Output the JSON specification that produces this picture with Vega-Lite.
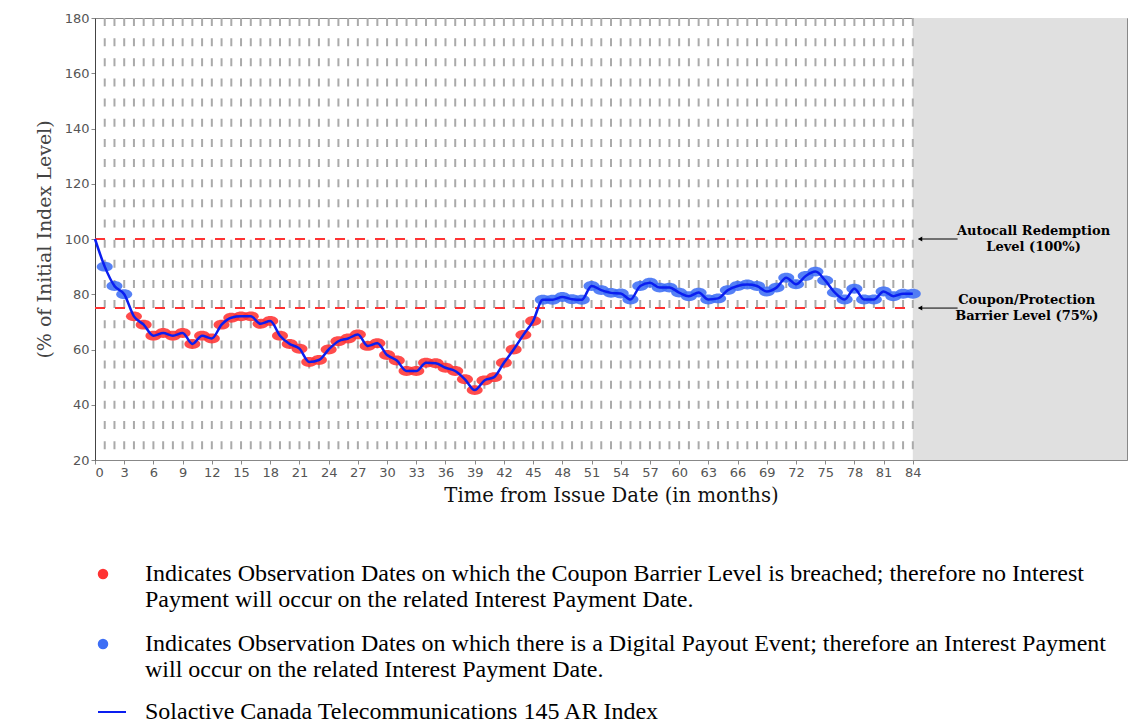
{
  "$schema": "https://vega.github.io/schema/vega-lite/v6.json",
  "width": 1032,
  "height": 442,
  "padding": {"left": 35, "top": 12, "right": 5, "bottom": 0},
  "background": "white",
  "config": {
    "view": {"stroke": "#888888", "strokeWidth": 1},
    "axis": {"grid": false, "labelFont": "DejaVu Sans", "labelFontSize": 13, "labelColor": "#555555", "tickColor": "#888888", "tickSize": 4, "labelPadding": 2, "titleFontWeight": "normal", "labelOverlap": false},
    "legend": {"labelFont": "Liberation Serif", "labelFontSize": 24, "labelColor": "#000000", "labelLimit": 1500, "symbolOpacity": 1}
  },
  "datasets": {
    "obs": [
      {"month": 0, "level": 100, "status": "Start"},
      {"month": 1, "level": 90, "status": "Payout"},
      {"month": 2, "level": 83, "status": "Payout"},
      {"month": 3, "level": 80, "status": "Payout"},
      {"month": 4, "level": 72, "status": "Breach"},
      {"month": 5, "level": 69, "status": "Breach"},
      {"month": 6, "level": 65, "status": "Breach"},
      {"month": 7, "level": 66, "status": "Breach"},
      {"month": 8, "level": 65, "status": "Breach"},
      {"month": 9, "level": 66, "status": "Breach"},
      {"month": 10, "level": 62, "status": "Breach"},
      {"month": 11, "level": 65, "status": "Breach"},
      {"month": 12, "level": 64, "status": "Breach"},
      {"month": 13, "level": 69, "status": "Breach"},
      {"month": 14, "level": 71.5, "status": "Breach"},
      {"month": 15, "level": 72, "status": "Breach"},
      {"month": 16, "level": 72, "status": "Breach"},
      {"month": 17, "level": 69.3, "status": "Breach"},
      {"month": 18, "level": 70.3, "status": "Breach"},
      {"month": 19, "level": 65, "status": "Breach"},
      {"month": 20, "level": 62, "status": "Breach"},
      {"month": 21, "level": 60.3, "status": "Breach"},
      {"month": 22, "level": 55.5, "status": "Breach"},
      {"month": 23, "level": 56.2, "status": "Breach"},
      {"month": 24, "level": 60, "status": "Breach"},
      {"month": 25, "level": 63, "status": "Breach"},
      {"month": 26, "level": 64, "status": "Breach"},
      {"month": 27, "level": 65.4, "status": "Breach"},
      {"month": 28, "level": 61.3, "status": "Breach"},
      {"month": 29, "level": 62.3, "status": "Breach"},
      {"month": 30, "level": 58, "status": "Breach"},
      {"month": 31, "level": 56, "status": "Breach"},
      {"month": 32, "level": 52.2, "status": "Breach"},
      {"month": 33, "level": 52.2, "status": "Breach"},
      {"month": 34, "level": 55.2, "status": "Breach"},
      {"month": 35, "level": 55, "status": "Breach"},
      {"month": 36, "level": 53.4, "status": "Breach"},
      {"month": 37, "level": 52.2, "status": "Breach"},
      {"month": 38, "level": 49.2, "status": "Breach"},
      {"month": 39, "level": 45.3, "status": "Breach"},
      {"month": 40, "level": 48.8, "status": "Breach"},
      {"month": 41, "level": 50, "status": "Breach"},
      {"month": 42, "level": 55.2, "status": "Breach"},
      {"month": 43, "level": 60, "status": "Breach"},
      {"month": 44, "level": 65.3, "status": "Breach"},
      {"month": 45, "level": 70.3, "status": "Breach"},
      {"month": 46, "level": 78, "status": "Payout"},
      {"month": 47, "level": 78, "status": "Payout"},
      {"month": 48, "level": 79, "status": "Payout"},
      {"month": 49, "level": 78.2, "status": "Payout"},
      {"month": 50, "level": 78, "status": "Payout"},
      {"month": 51, "level": 83, "status": "Payout"},
      {"month": 52, "level": 81.5, "status": "Payout"},
      {"month": 53, "level": 80.5, "status": "Payout"},
      {"month": 54, "level": 80.3, "status": "Payout"},
      {"month": 55, "level": 78.1, "status": "Payout"},
      {"month": 56, "level": 83, "status": "Payout"},
      {"month": 57, "level": 84.2, "status": "Payout"},
      {"month": 58, "level": 82.4, "status": "Payout"},
      {"month": 59, "level": 82.4, "status": "Payout"},
      {"month": 60, "level": 80.6, "status": "Payout"},
      {"month": 61, "level": 79.3, "status": "Payout"},
      {"month": 62, "level": 80.6, "status": "Payout"},
      {"month": 63, "level": 78.1, "status": "Payout"},
      {"month": 64, "level": 78.5, "status": "Payout"},
      {"month": 65, "level": 81.5, "status": "Payout"},
      {"month": 66, "level": 83, "status": "Payout"},
      {"month": 67, "level": 83.5, "status": "Payout"},
      {"month": 68, "level": 83, "status": "Payout"},
      {"month": 69, "level": 81, "status": "Payout"},
      {"month": 70, "level": 82.4, "status": "Payout"},
      {"month": 71, "level": 86, "status": "Payout"},
      {"month": 72, "level": 83.6, "status": "Payout"},
      {"month": 73, "level": 86.6, "status": "Payout"},
      {"month": 74, "level": 88.2, "status": "Payout"},
      {"month": 75, "level": 85, "status": "Payout"},
      {"month": 76, "level": 80.6, "status": "Payout"},
      {"month": 77, "level": 78.1, "status": "Payout"},
      {"month": 78, "level": 82, "status": "Payout"},
      {"month": 79, "level": 78.1, "status": "Payout"},
      {"month": 80, "level": 78.1, "status": "Payout"},
      {"month": 81, "level": 81, "status": "Payout"},
      {"month": 82, "level": 79.3, "status": "Payout"},
      {"month": 83, "level": 80.2, "status": "Payout"},
      {"month": 84, "level": 80.2, "status": "Payout"}
    ],
    "levels": [
      {"level": 100, "label": "Autocall Redemption\nLevel (100%)", "labelAt": 96.4},
      {"level": 75, "label": "Coupon/Protection\nBarrier Level (75%)", "labelAt": 95.7}
    ],
    "shade": [{"from": 84, "to": 106}]
  },
  "layer": [
    {
      "data": {"name": "shade"},
      "mark": {"type": "rect", "fill": "#e0e0e0"},
      "encoding": {
        "x": {"field": "from", "type": "quantitative", "title": "Time from Issue Date (in months)",
          "scale": {"domain": [0, 106], "nice": false, "zero": false},
          "axis": {"values": [0,3,6,9,12,15,18,21,24,27,30,33,36,39,42,45,48,51,54,57,60,63,66,69,72,75,78,81,84], "tickCount": 60, "domainColor": "#888888", "titleFont": "DejaVu Serif", "titleFontSize": 19.6, "titleColor": "#111111", "titlePadding": 7}},
        "x2": {"field": "to"}
      }
    },
    {
      "data": {"name": "obs"},
      "transform": [{"filter": "datum.month > 0"}],
      "mark": {"type": "rule", "color": "#aaaaaa", "strokeWidth": 2, "strokeDash": [8, 12.15]},
      "encoding": {
        "x": {"field": "month", "type": "quantitative", "title": "Time from Issue Date (in months)"}
      }
    },
    {
      "data": {"name": "levels"},
      "mark": {"type": "rule", "color": "#ff3333", "strokeWidth": 2, "strokeDash": [10, 10]},
      "encoding": {
        "x": {"datum": 0, "type": "quantitative"},
        "x2": {"datum": 84},
        "y": {"field": "level", "type": "quantitative", "title": "(% of Initial Index Level)",
          "scale": {"domain": [20, 180], "nice": false, "zero": false},
          "axis": {"values": [20,40,60,80,100,120,140,160,180], "tickCount": 20, "domainColor": "#444444", "titleFont": "DejaVu Serif", "titleFontSize": 19, "titleColor": "#444444", "titlePadding": 10}}
      }
    },
    {
      "data": {"name": "obs"},
      "transform": [{"filter": "datum.month > 0"}],
      "mark": {"type": "point", "filled": true, "opacity": 0.88, "size": 256, "shape": "M-1,0A1,0.62,0,1,1,1,0A1,0.62,0,1,1,-1,0Z"},
      "encoding": {
        "x": {"field": "month", "type": "quantitative", "title": "Time from Issue Date (in months)"},
        "y": {"field": "level", "type": "quantitative", "title": "(% of Initial Index Level)"},
        "fill": {"field": "status", "type": "nominal",
          "scale": {"domain": ["Breach", "Payout"], "range": ["#ff3333", "#3d6ef5"]},
          "legend": {
            "orient": "none", "legendX": -4, "legendY": 544, "title": null, "direction": "vertical",
            "symbolType": "circle", "symbolSize": 110, "labelOffset": 30, "rowPadding": 20,
            "labelExpr": "datum.value == 'Breach' ? ['Indicates Observation Dates on which the Coupon Barrier Level is breached; therefore no Interest', 'Payment will occur on the related Interest Payment Date.'] : ['Indicates Observation Dates on which there is a Digital Payout Event; therefore an Interest Payment', 'will occur on the related Interest Payment Date.']",
            "encode": {"labels": {"lineHeight": {"value": 26}}}
          }}
      }
    },
    {
      "data": {"name": "obs"},
      "mark": {"type": "line", "strokeWidth": 2.5, "interpolate": "monotone"},
      "encoding": {
        "x": {"field": "month", "type": "quantitative", "title": "Time from Issue Date (in months)"},
        "y": {"field": "level", "type": "quantitative", "title": "(% of Initial Index Level)"},
        "stroke": {"datum": "Solactive Canada Telecommunications 145 AR Index", "type": "nominal",
          "scale": {"range": ["#0a1ef0"]},
          "legend": {
            "orient": "none", "legendX": 2, "legendY": 679, "title": null,
            "symbolType": "stroke", "symbolSize": 784, "symbolStrokeWidth": 2, "labelOffset": 18
          }}
      }
    },
    {
      "data": {"name": "levels"},
      "mark": {"type": "rule", "color": "#000000", "strokeWidth": 1},
      "encoding": {
        "x": {"datum": 84.6, "type": "quantitative"},
        "x2": {"datum": 88.6},
        "y": {"field": "level", "type": "quantitative", "title": "(% of Initial Index Level)"}
      }
    },
    {
      "data": {"name": "levels"},
      "mark": {"type": "point", "shape": "triangle-left", "filled": true, "color": "#000000", "size": 25, "opacity": 1},
      "encoding": {
        "x": {"datum": 84.75, "type": "quantitative"},
        "y": {"field": "level", "type": "quantitative", "title": "(% of Initial Index Level)"}
      }
    },
    {
      "data": {"name": "levels"},
      "mark": {"type": "text", "font": "DejaVu Serif", "fontWeight": "bold", "fontSize": 13, "align": "center", "baseline": "middle", "lineBreak": "\n", "lineHeight": 16, "dy": -8, "color": "#000000"},
      "encoding": {
        "x": {"field": "labelAt", "type": "quantitative"},
        "y": {"field": "level", "type": "quantitative", "title": "(% of Initial Index Level)"},
        "text": {"field": "label"}
      }
    }
  ]
}
